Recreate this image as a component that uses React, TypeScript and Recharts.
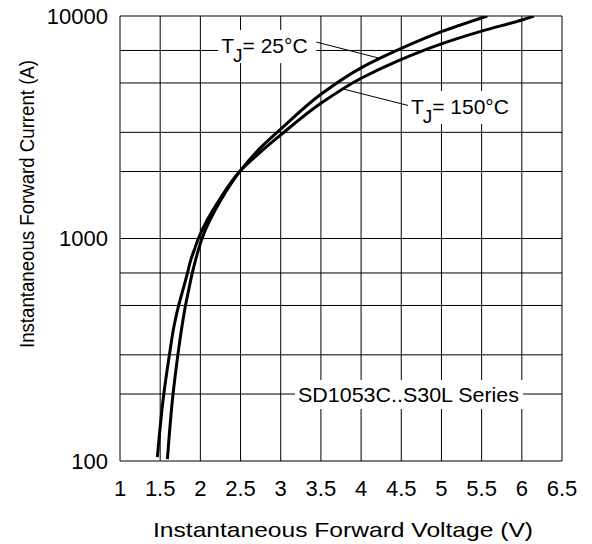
import React from 'react';
import {
  LineChart,
  Line,
  XAxis,
  YAxis,
  CartesianGrid,
  ReferenceDot,
  ReferenceLine,
  Label,
} from 'recharts';

const FONT = 'Arial, "Liberation Sans", Helvetica, sans-serif';

// axis ticks
const voltageTicks = [1, 1.5, 2, 2.5, 3, 3.5, 4, 4.5, 5, 5.5, 6, 6.5];
const currentTicks = [100, 1000, 10000];
const currentGrid = [
  100, 200, 300, 400, 500, 600, 700, 800, 900,
  1000, 2000, 3000, 4000, 5000, 6000, 7000, 8000, 9000, 10000,
];

// TJ = 25°C
const vf25 = [1.59, 1.66, 1.72, 1.77, 1.815, 1.86, 1.9, 1.94, 1.98, 2.02, 2.25, 2.49, 2.75, 3.0, 3.5, 4.0, 4.5, 5.0, 5.57];
const if25 = [102, 200, 300, 400, 500, 600, 700, 800, 900, 1000, 1480, 2000, 2560, 3100, 4450, 5850, 7150, 8500, 10000];

// TJ = 150°C
const vf150 = [1.465, 1.545, 1.615, 1.67, 1.73, 1.79, 1.84, 1.88, 1.93, 1.975, 2.24, 2.49, 2.75, 3.0, 3.5, 4.0, 4.48, 5.0, 5.5, 6.0, 6.15];
const if150 = [104, 200, 300, 400, 500, 600, 700, 800, 900, 1000, 1500, 2000, 2450, 2920, 4050, 5250, 6340, 7500, 8550, 9600, 10000];

const data25 = vf25.map((v, k) => ({ v, i: if25[k] }));
const data150 = vf150.map((v, k) => ({ v, i: if150[k] }));

// annotation anchors (data coordinates)
const label25 = { v: 2.26, i: 7400 };
const leader25 = [{ x: 3.44, y: 7640 }, { x: 4.235, y: 6450 }];
const label150 = { v: 4.62, i: 3940 };
const leader150 = [{ x: 4.6, y: 3950 }, { x: 3.775, y: 4700 }];
const seriesLabel = { v: 3.215, i: 200 };

function TjLabel({ cx, cy, temp, boxWidth }: any) {
  return (
    <g>
      <rect x={cx - 3} y={cy - 15} width={boxWidth} height={33} fill="#fff" />
      <text x={cx} y={cy + 7.5} fontSize={21} fontFamily={FONT} fill="#000">
        <tspan>T</tspan>
        <tspan dx={-1} dy={9} fontSize={19}>J</tspan>
        <tspan dy={-9}>{`= ${temp}°C`}</tspan>
      </text>
    </g>
  );
}

function SeriesText({ cx, cy }: any) {
  return (
    <g>
      <rect x={cx - 3} y={cy - 14} width={228} height={29} fill="#fff" />
      <text x={cx} y={cy + 7.5} fontSize={21} fontFamily={FONT} fill="#000" textLength={221} lengthAdjust="spacingAndGlyphs">
        SD1053C..S30L Series
      </text>
    </g>
  );
}

export default function App() {
  return (
    <div style={{ position: 'absolute', left: 0, top: 0, background: '#fff' }}>
      <LineChart width={592} height={544} margin={{ top: 16, right: 30, bottom: 53, left: 60 }}>
        <CartesianGrid stroke="#000" strokeWidth={1} horizontalValues={currentGrid} />
        <XAxis
          type="number"
          dataKey="v"
          domain={[1, 6.5]}
          ticks={voltageTicks}
          allowDataOverflow
          height={30}
          axisLine={false}
          tickLine={false}
          tickSize={0}
          tickMargin={19}
          tick={{ fontSize: 22, fill: '#000', fontFamily: FONT }}
        >
          <Label
            content={({ viewBox }: any) => (
              <text
                x={viewBox.x + viewBox.width / 2 + 2}
                y={viewBox.y + 75.5}
                textAnchor="middle"
                fontSize={21}
                fontFamily={FONT}
                fill="#000"
                textLength={380}
                lengthAdjust="spacingAndGlyphs"
              >
                Instantaneous Forward Voltage (V)
              </text>
            )}
          />
        </XAxis>
        <YAxis
          type="number"
          dataKey="i"
          scale="log"
          domain={[100, 10000]}
          ticks={currentTicks}
          allowDataOverflow
          width={60}
          axisLine={false}
          tickLine={false}
          tickSize={0}
          tickMargin={12}
          tick={{ fontSize: 22, fill: '#000', fontFamily: FONT }}
        >
          <Label
            content={({ viewBox }: any) => {
              const x = viewBox.x - 26.5;
              const y = viewBox.y + 188;
              return (
                <text
                  x={x}
                  y={y}
                  transform={`rotate(-90 ${x} ${y})`}
                  textAnchor="middle"
                  fontSize={21}
                  fontFamily={FONT}
                  fill="#000"
                  textLength={288}
                  lengthAdjust="spacingAndGlyphs"
                >
                  Instantaneous Forward Current (A)
                </text>
              );
            }}
          />
        </YAxis>
        <ReferenceLine segment={leader25} stroke="#000" strokeWidth={1} />
        <ReferenceLine segment={leader150} stroke="#000" strokeWidth={1} />
        <ReferenceDot x={label25.v} y={label25.i} r={0} shape={(p: any) => <TjLabel {...p} temp={25} boxWidth={98} />} />
        <ReferenceDot x={label150.v} y={label150.i} r={0} shape={(p: any) => <TjLabel {...p} temp={150} boxWidth={108} />} />
        <ReferenceDot x={seriesLabel.v} y={seriesLabel.i} r={0} shape={(p: any) => <SeriesText {...p} />} />
        <Line
          data={data25}
          dataKey="i"
          type="monotoneY"
          stroke="#000"
          strokeWidth={3}
          dot={false}
          isAnimationActive={false}
        />
        <Line
          data={data150}
          dataKey="i"
          type="monotoneY"
          stroke="#000"
          strokeWidth={3}
          dot={false}
          isAnimationActive={false}
        />
      </LineChart>
    </div>
  );
}
